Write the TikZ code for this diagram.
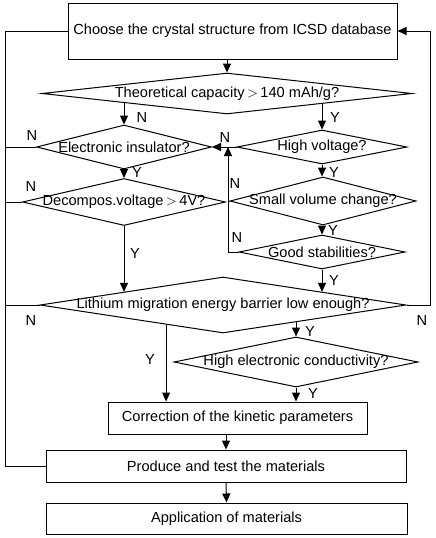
\documentclass[tikz,border=0pt]{standalone}
\usepackage{fontspec}
\setmainfont{Liberation Sans}
\usetikzlibrary{shapes.geometric,arrows.meta,calc}

\begin{document}
\begin{tikzpicture}[x=1pt,y=-1pt,line width=1pt,
    >={Triangle[length=9pt,width=8pt]},
    every node/.style={font=\fontsize{14.6}{16}\selectfont},
    box/.style={draw,rectangle,inner sep=0pt},
    dia/.style={draw,diamond,inner xsep=-12pt,inner ysep=-2pt},
    lbl/.style={inner sep=0pt}]
    \useasboundingbox (0,0) rectangle (436,538);

    % boxes and questions
    \node[box,minimum width=329pt,minimum height=56pt] (cs) at (232.5,31) {Choose the crystal structure from ICSD database};
    \node[dia,minimum width=370pt,minimum height=41pt,aspect=9] (tc) at (227,93.5) {Theoretical capacity\,$>$\,140 mAh/g?};
    \node[dia,minimum width=175pt,minimum height=44pt,aspect=4] (ei) at (124,147) {Electronic insulator?};
    \node[dia,minimum width=170pt,minimum height=34pt,aspect=5] (hv) at (322,147) {High voltage?};
    \node[dia,minimum width=203pt,minimum height=47pt,aspect=4.3] (dv) at (124,202) {Decompos.voltage\,$>$\,4V?};
    \node[dia,minimum width=186pt,minimum height=48pt,aspect=3.8] (sv) at (323,201) {Small volume change?};
    \node[dia,minimum width=166pt,minimum height=34pt,aspect=5] (gs) at (322,252) {Good stabilities?};
    \node[dia,minimum width=366pt,minimum height=56pt,aspect=6.5] (li) at (223,305) {Lithium migration energy barrier low enough?};
    \node[dia,minimum width=244pt,minimum height=50pt,aspect=4.9] (hc) at (296,362) {High electronic conductivity?};
    \node[box,minimum width=259pt,minimum height=32pt] (ck) at (237.5,418) {Correction of the kinetic parameters};
    \node[box,minimum width=360pt,minimum height=32pt] (pt) at (226,466) {Produce and test the materials};
    \node[box,minimum width=361pt,minimum height=31pt] (am) at (226.5,518.5) {Application of materials};

    \coordinate (lft) at (5,0);
    \coordinate (rgt) at (430,0);
    \coordinate (jn) at (228,147);

    % main arrows
    \draw[->] (tc.north |- cs.south) -- (tc.north);
    \draw[->] (ei.north |- {$(tc.west)!.44!(tc.south)$}) -- (ei.north);
    \draw[->] (hv.north |- {$(tc.south)!.51!(tc.east)$}) -- (hv.north);
    \draw[->] (hv.west) -- (ei.east);
    \draw[->] (ei.south) -- (dv.north);
    \draw[->] (hv.south) -- (hv.south |- sv.north);
    \draw[->] (gs.north |- sv.south) -- (gs.north);
    \draw[->] (gs.west) -| (jn);
    \draw (sv.west) -- (sv.west -| jn);
    \draw[->] (dv.south) -- (dv.south |- {$(li.west)!.46!(li.north)$});
    \draw[->] (gs.south) -- (gs.south |- {$(li.north)!.54!(li.east)$});
    \draw[->] ($(li.west)!.69!(li.south)$) coordinate (ly) -- (ly |- ck.north);
    \draw[->] (hc.north |- {$(li.south)!.4!(li.east)$}) -- (hc.north);
    \draw[->] (hc.south) -- (hc.south |- ck.north);
    \draw[->] (pt.north |- ck.south) -- (pt.north);
    \draw[->] (pt.south) -- (am.north);

    % back loops
    \draw (cs.west) -- (cs.west -| lft) -- (pt.west -| lft) -- (pt.west);
    \draw (ei.west) -- (ei.west -| lft);
    \draw (dv.west) -- (dv.west -| lft);
    \draw (li.west) -- (li.west -| lft);
    \draw[->] (li.east) -- (li.east -| rgt) -- (cs.east -| rgt) -- (cs.east);

    % Y / N
    \node[lbl] (n1) at (142,117) {N};
    \node[lbl] (y1) at (335,117) {Y};
    \node[lbl] (n2) at (32,135) {N};
    \node[lbl] (n3) at (225,137) {N};
    \node[lbl] (y2) at (137,172) {Y};
    \node[lbl] (y3) at (334,172) {Y};
    \node[lbl] (n4) at (235,183) {N};
    \node[lbl] (n5) at (31,186) {N};
    \node[lbl] (y4) at (333,230) {Y};
    \node[lbl] (n6) at (237,237) {N};
    \node[lbl] (y5) at (135,253) {Y};
    \node[lbl] (y6) at (334,280) {Y};
    \node[lbl] (n7) at (31,320) {N};
    \node[lbl] (n8) at (422,320) {N};
    \node[lbl] (y7) at (310,331) {Y};
    \node[lbl] (y8) at (150,359) {Y};
    \node[lbl] (y9) at (313,393) {Y};
\end{tikzpicture}
\end{document}
